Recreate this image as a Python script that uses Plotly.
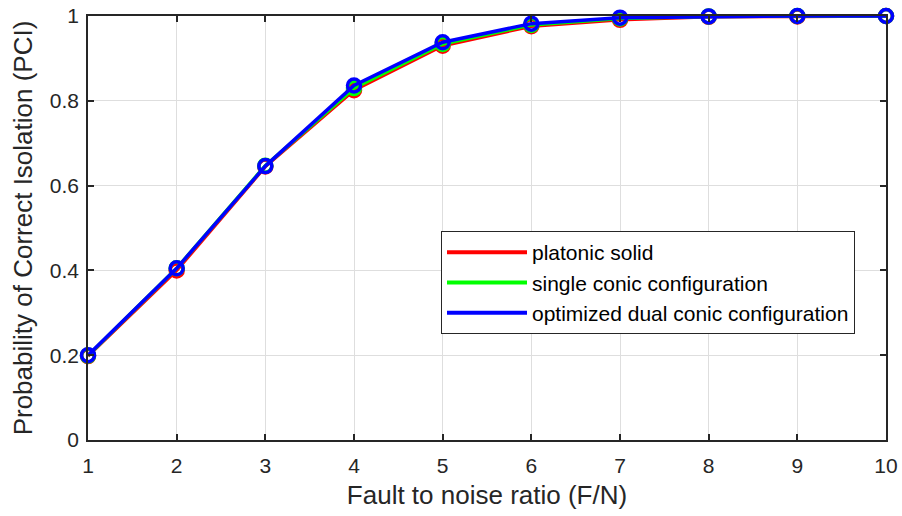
import plotly.graph_objects as go

snr = [1, 2, 3, 4, 5, 6, 7, 8, 9, 10]
platonic = [0.198, 0.400, 0.645, 0.825, 0.930, 0.976, 0.991, 0.998, 0.999, 1.0]
single_conic = [0.199, 0.405, 0.647, 0.830, 0.934, 0.979, 0.994, 0.999, 1.0, 1.0]
dual_conic = [0.200, 0.405, 0.646, 0.836, 0.938, 0.982, 0.996, 0.999, 1.0, 1.0]

names = ["platonic solid", "single conic configuration", "optimized dual conic configuration"]
colors = ["#ff0000", "#00ff00", "#0000ff"]
series = [platonic, single_conic, dual_conic]
x_ticks = list(range(1, 11))
y_ticks = [0, 0.2, 0.4, 0.6, 0.8, 1]
y_tick_text = ["0", "0.2", "0.4", "0.6", "0.8", "1"]

FONT = "Liberation Sans, Arial, Helvetica"

fig = go.Figure()
for name, col, vals in zip(names, colors, series):
    fig.add_trace(go.Scatter(
        x=snr, y=vals, mode="lines+markers", name=name, showlegend=False,
        line=dict(color=col, width=3.5),
        marker=dict(symbol="circle-open", size=13, color=col, line=dict(width=3.5, color=col)),
        cliponaxis=False,
    ))
for name, col in zip(names, colors):
    fig.add_trace(go.Scatter(
        x=[None], y=[None], mode="lines", name=name,
        line=dict(color=col, width=4),
    ))

axis_common = dict(
    showline=True, mirror="ticks", linecolor="#262626", linewidth=1.5,
    ticks="inside", ticklen=6, tickwidth=1.5, tickcolor="#262626",
    showgrid=True, gridcolor="#dedede", gridwidth=1,
    zeroline=False, automargin=False,
    tickfont=dict(family=FONT, size=21, color="#262626"),
)

fig.update_layout(
    template="none",
    width=902, height=516,
    margin=dict(l=88, r=16, t=16, b=76, autoexpand=False),
    paper_bgcolor="white", plot_bgcolor="white",
    font=dict(family=FONT, color="#262626"),
    xaxis=dict(range=[1, 10], tickvals=x_ticks, ticktext=[str(v) for v in x_ticks],
               ticklabelstandoff=6,
               title=dict(text="Fault to noise ratio (F/N)", font=dict(family=FONT, size=26, color="#262626"), standoff=10),
               **axis_common),
    yaxis=dict(range=[0, 1], tickvals=y_ticks, ticktext=y_tick_text,
               ticklabelstandoff=3,
               title=dict(text="Probability of Correct Isolation (PCI)", font=dict(family=FONT, size=26, color="#262626"), standoff=10),
               **axis_common),
    legend=dict(
        x=(441 - 88) / 798, y=(440 - 231) / 424, xanchor="left", yanchor="top",
        bgcolor="white", bordercolor="#262626", borderwidth=1,
        font=dict(family=FONT, size=21, color="#000000"),
        itemwidth=80, tracegroupgap=0,
    ),
)

fig.write_html("out.html")
